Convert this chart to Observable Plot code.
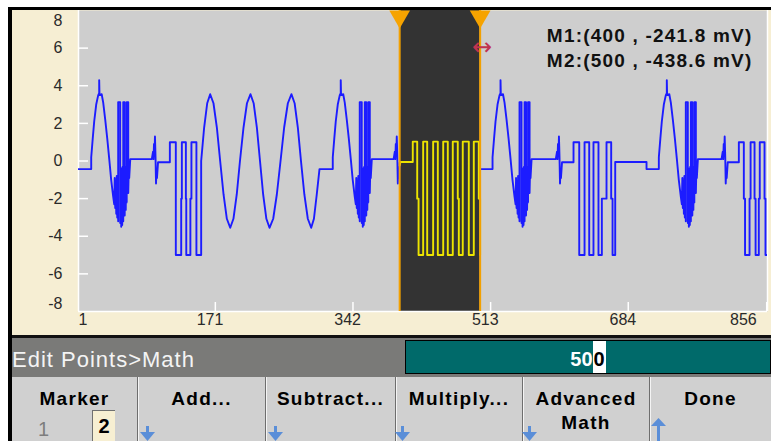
<!DOCTYPE html>
<html><head><meta charset="utf-8">
<script src="https://cdn.jsdelivr.net/npm/d3@7"></script>
<script src="https://cdn.jsdelivr.net/npm/@observablehq/plot@0.6"></script>
<style>
html,body{margin:0;padding:0;background:#fff;}
#screen{position:relative;width:771px;height:441px;overflow:hidden;background:#fff;font-family:"Liberation Sans",Arial,sans-serif;}
.abs{position:absolute;}
#topbar{left:8px;top:7px;width:763px;height:3px;background:#000;}
#leftbar{left:8px;top:7px;width:4px;height:434px;background:#000;z-index:5;}
#beige{left:12px;top:10px;width:759px;height:325px;background:#f6eed3;}
#chart{left:0;top:0;}
#sep{left:12px;top:335px;width:759px;height:3px;background:#111;}
#pathbar{left:12px;top:338px;width:759px;height:39px;background:#7a7a78;color:#f4f4f4;font-size:22px;line-height:43px;letter-spacing:1px;overflow:hidden;white-space:nowrap;}
#entry{left:405px;top:340px;width:366px;height:34px;box-sizing:border-box;border:1px solid #000;background:#006a6a;color:#fff;font-weight:bold;font-size:20px;text-align:center;line-height:36px;overflow:hidden;}
#entry .cur{display:inline-block;background:#fff;color:#000;height:32px;line-height:36px;padding:0 1px;}
#keys{left:12px;top:377px;width:759px;height:64px;background:#d0d0d0;}
.key{position:absolute;top:0;height:64px;text-align:center;font-weight:bold;font-size:19px;letter-spacing:1.3px;color:#000;line-height:24px;box-sizing:border-box;}
.key .lbl{position:absolute;left:0;right:0;top:10px;}
.key.div{border-left:1px solid #6e6e6e;box-shadow:inset 1px 0 0 #f4f4f4;}
.arrow{position:absolute;}
</style></head>
<body>
<div id="screen">
  <div id="beige" class="abs"></div>
  <div id="chart" class="abs"></div>
  <div id="topbar" class="abs"></div>
  <div id="sep" class="abs"></div>
  <div id="pathbar" class="abs">Edit Points&gt;Math</div>
  <div id="entry" class="abs">50<span class="cur">0</span></div>
  <div id="keys" class="abs">
    <div class="key" style="left:0;width:125px;"><div class="lbl">Marker</div></div>
    <div class="key div" style="left:125px;width:128px;"><div class="lbl">Add...</div></div>
    <div class="key div" style="left:253px;width:130px;"><div class="lbl">Subtract...</div></div>
    <div class="key div" style="left:383px;width:127px;"><div class="lbl">Multiply...</div></div>
    <div class="key div" style="left:510px;width:127px;"><div class="lbl">Advanced<br>Math</div></div>
    <div class="key div" style="left:637px;width:122px;"><div class="lbl">Done</div></div>
    <div class="abs" style="left:26px;top:40px;font-size:20px;color:#7d7d7d;line-height:24px;">1</div>
    <div class="abs" style="left:80px;top:33px;width:23px;height:34px;background:#f7efd2;border-left:1px solid #707070;border-top:1px solid #707070;box-sizing:border-box;text-align:center;font-weight:bold;font-size:20px;line-height:30px;">2</div>
  </div>
  <svg class="arrow" style="left:140px;top:426px" width="16" height="16"><rect x="6" y="0" width="3" height="8" fill="#5a8ed8"/><polygon points="0,6 15,6 7.5,15" fill="#5a8ed8"/></svg>
  <svg class="arrow" style="left:268px;top:426px" width="16" height="16"><rect x="6" y="0" width="3" height="8" fill="#5a8ed8"/><polygon points="0,6 15,6 7.5,15" fill="#5a8ed8"/></svg>
  <svg class="arrow" style="left:395px;top:426px" width="16" height="16"><rect x="6" y="0" width="3" height="8" fill="#5a8ed8"/><polygon points="0,6 15,6 7.5,15" fill="#5a8ed8"/></svg>
  <svg class="arrow" style="left:522px;top:426px" width="16" height="16"><rect x="6" y="0" width="3" height="8" fill="#5a8ed8"/><polygon points="0,6 15,6 7.5,15" fill="#5a8ed8"/></svg>
  <svg class="arrow" style="left:651px;top:418px" width="16" height="24"><polygon points="7.5,0 15,8 0,8" fill="#5a8ed8"/><rect x="6" y="7" width="3" height="17" fill="#5a8ed8"/></svg>
  <div id="leftbar" class="abs"></div>
</div>
<script>
// ---- axes ----
const xDomain = [1, 857];
const yDomain = [-8, 8];
const xTicks = [1, 171, 342, 513, 684, 856];
const yTicks = [8, 6, 4, 2, 0, -2, -4, -6, -8];

// ---- markers ----
const markerIdx = [400, 500];
const markerMv = [-241.8, -438.6];

// ---- waveform pieces (point index, volts) ----
const leadIdx = [1];
const leadVal = [-0.43];

// repeated "hump" shape: offset from its start, value
const humpDx = [0,0,1.9,3.7,6.2,8.7,9.9,9.9,10.3,13.0,14.9,17.4,19.9,22.4,24.8,27.3,28.6,29.2,29.8,30.4,31.1,31.7,32.3,32.9,33.5,33.5,36.0,36.0,36.7,37.3,37.9,38.5,39.1,39.8,39.8,41.6,41.6,42.2,42.9,43.5,44.1,44.1,46.0,46.0,46.6,47.2,48.5];
const humpV  = [-0.43,0.2,1.2,2.1,3.0,3.5,3.6,4.3,3.5,3.55,3.1,2.2,1.2,0.1,-1.0,-1.9,-2.3,-0.9,-2.5,-1.1,-2.8,-0.8,-3.0,-1.2,-3.2,3.13,3.13,-3.3,-0.6,-3.5,-0.4,-3.4,-0.3,-3.2,3.13,3.13,-2.9,-0.3,-2.6,-0.4,-2.2,3.13,3.13,-1.7,-0.5,-0.9,0.1];
const humpStart = [16.8, 316.9, 515.4, 722.0];

// small glitch shape
const blipDx = [0,1.5,2.1,2.7,3.3,3.9,4.6,5.2,5.8,6.4,7.7];
const blipV  = [0.1,0.5,0.1,0.9,0.3,1.3,0.2,-1.2,-0.5,-0.9,-0.07];
const blipStart = [92.1, 392.5, 594.0, 799.9];

const burst1Idx = [114.5,114.5,121.9,121.9,128.6,128.6,129.4,129.4,134.4,134.4,134.9,134.9,140.0,140.0,141.3,141.3,147.5,147.5,153.4];
const burst1Val = [-0.07,1,1,-5,-5,-2,-2,1,1,-2,-2,-5,-5,-2,-2,1,1,-5,-5];

const sineIdx = [153.4,157.1,160.9,164.6,168.7,172.9,177.0,181.2,185.3,189.5,193.5,197.6,201.6,206.0,210.3,214.7,218.6,222.6,226.5,230.4,234.4,238.3,242.9,247.4,252.0,256.5,261.1,265.6,269.5,273.5,277.4,281.6,285.9,290.1,293.5,297.0,300.4];
const sineVal = [0,1.78,3.07,3.55,3.07,1.78,0,-1.78,-3.07,-3.55,-3.07,-1.78,0,1.78,3.07,3.55,3.07,1.78,0,-1.78,-3.07,-3.55,-3.07,-1.78,0,1.78,3.07,3.55,3.07,1.78,0,-1.78,-3.07,-3.55,-3.07,-1.78,-0.43];

const burst2Idx = [616.0,616.0,623.1,623.1,629.7,629.7,635.5,635.5,640.8,640.8,647.0,647.0,651.2,651.2,657.0,657.0,662.8,662.8,664.5,664.5,667.8,667.8,706.7,706.7];
const burst2Val = [-0.07,1,1,-5,-5,1,1,-5,-5,1,1,-5,-5,-2,-2,1,1,-2,-2,-5,-5,-0.05,-0.05,-0.43];

const burst3Idx = [821.4,821.4,827.6,827.6,829.1,829.1,834.7,834.7,836.0,836.0,840.9,840.9,842.2,842.2,846.2,846.2,847.4,847.4,853.3,853.3,854.5,854.5,857];
const burst3Val = [-0.07,1,1,-2,-2,-5,-5,-2,-2,1,1,-2,-2,-5,-5,-2,-2,1,1,-2,-2,-5,-5];

const resumeIdx = [500];
const resumeVal = [-0.43];

// selected (math) region between markers
const selIdx = [400,401,416.3,416.3,421.8,421.8,423.5,423.5,429.2,429.2,434.2,434.2,441.6,441.6,447.4,447.4,454.1,454.1,459.8,459.8,466.0,466.0,472.2,472.2,473.5,473.5,478.4,478.4,485.9,485.9,492.1,492.1,498.3,498.3,500,500];
const selVal = [-0.24,-0.05,-0.05,1.03,1.03,-2,-2,-5,-5,1.03,1.03,-5,-5,1.03,1.03,-5,-5,1.03,1.03,-5,-5,1.03,1.03,-2,-2,-5,-5,1.03,1.03,-5,-5,1.03,1.03,-2,-2,-5];

// ---- build tables ----
const pts = (I, V, seg) => I.map((i, k) => ({i, v: V[k], seg}));
const hump = (n, seg) => humpDx.map((d, k) => ({i: humpStart[n] + d, v: humpV[k], seg}));
const blip = (n, seg) => blipDx.map((d, k) => ({i: blipStart[n] + d, v: blipV[k], seg}));

const blue = [
  ...pts(leadIdx, leadVal, 0), ...hump(0, 0), ...blip(0, 0),
  ...pts(burst1Idx, burst1Val, 0), ...pts(sineIdx, sineVal, 0),
  ...hump(1, 0), ...blip(1, 0),
  ...pts(resumeIdx, resumeVal, 1), ...hump(2, 1), ...blip(2, 1),
  ...pts(burst2Idx, burst2Val, 1), ...hump(3, 1), ...blip(3, 1),
  ...pts(burst3Idx, burst3Val, 1)
];
const yellow = pts(selIdx, selVal, 2);

const midX = xTicks.slice(1, -1);
const midY = yTicks.slice(1, -1);
const font = "Liberation Sans, Arial, sans-serif";

const chart = Plot.plot({
  width: 771, height: 336,
  marginLeft: 78, marginRight: 4, marginTop: 10, marginBottom: 25,
  x: {domain: xDomain, axis: null},
  y: {domain: yDomain, axis: null},
  style: {background: "transparent", fontFamily: font, fontSize: "16px", overflow: "visible"},
  marks: [
    Plot.frame({fill: "#cecece", stroke: "none"}),
    Plot.rect([{a: markerIdx[0], b: markerIdx[1], c: yDomain[0], d: yDomain[1]}], {x1: "a", x2: "b", y1: "c", y2: "d", fill: "#333333"}),
    Plot.ruleX([xDomain[0], xDomain[1]], {stroke: "#ffffff", strokeWidth: 1.5}),
    Plot.ruleY([yDomain[0]], {stroke: "#ffffff", strokeWidth: 1.5}),
    Plot.tickY(midY, {y: d => d, stroke: "#ffffff", strokeWidth: 1.5, insetRight: 679}),
    Plot.tickX(xTicks.slice(1), {x: d => d, stroke: "#ffffff", strokeWidth: 1.5, insetTop: 292}),
    Plot.line(blue, {x: "i", y: "v", z: "seg", stroke: "#1c1cff", strokeWidth: 1.9, clip: true}),
    Plot.line(yellow, {x: "i", y: "v", stroke: "#ece400", strokeWidth: 1.9, clip: true}),
    Plot.ruleX(markerIdx, {stroke: "#f2a000", strokeWidth: 2}),
    Plot.dot(markerIdx, {x: d => d, frameAnchor: "top", dy: 6, symbol: "triangle", rotate: 180, r: 7.7, fill: "#f6a300", stroke: "none"}),
    Plot.text(["\u2194"], {x: [markerIdx[1]], frameAnchor: "top", dy: 27, dx: 2, fill: "#c0344f", fontSize: 24, fontFamily: "DejaVu Sans"}),
    Plot.text([`M1:(${markerIdx[0]} , ${markerMv[0].toFixed(1)} mV)`], {frameAnchor: "top-right", dx: -15, dy: 18, textAnchor: "end", fontWeight: "bold", fontSize: 19, fill: "#111"}),
    Plot.text([`M2:(${markerIdx[1]} , ${markerMv[1].toFixed(1)} mV)`], {frameAnchor: "top-right", dx: -15, dy: 43, textAnchor: "end", fontWeight: "bold", fontSize: 19, fill: "#111"}),
    // y labels
    Plot.text(midY, {y: d => d, frameAnchor: "left", dx: -16, textAnchor: "end", fill: "#2a2a2a", text: d => String(d)}),
    Plot.text([yTicks[0]], {y: d => d, frameAnchor: "left", dx: -16, dy: 10, textAnchor: "end", fill: "#2a2a2a", text: d => String(d)}),
    Plot.text([yTicks[yTicks.length - 1]], {y: d => d, frameAnchor: "left", dx: -16, dy: -8, textAnchor: "end", fill: "#2a2a2a", text: d => String(d)}),
    // x labels
    Plot.text(midX, {x: d => d, frameAnchor: "bottom", dy: 13, dx: 8, textAnchor: "end", fill: "#2a2a2a", text: d => String(d)}),
    Plot.text([xTicks[0]], {x: d => d, frameAnchor: "bottom", dy: 13, textAnchor: "start", fill: "#2a2a2a", text: d => String(d)}),
    Plot.text([xTicks[xTicks.length - 1]], {x: d => d, frameAnchor: "bottom", dy: 13, dx: -10, textAnchor: "end", fill: "#2a2a2a", text: d => String(d)})
  ]
});
d3.select(chart).selectAll("text").filter(function() { return /^M\d:/.test(this.textContent); }).style("letter-spacing", "1.2px");
document.getElementById("chart").appendChild(chart);
</script>
</body></html>
